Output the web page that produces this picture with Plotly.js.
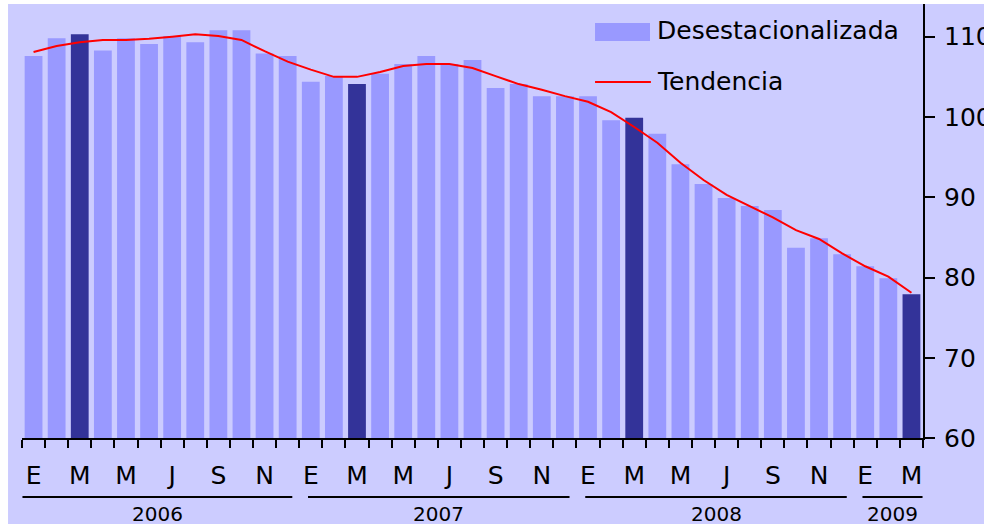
<!DOCTYPE html>
<html>
<head>
<meta charset="utf-8">
<script src="https://cdn.plot.ly/plotly-3.0.1.min.js"></script>
<style>
  html, body { margin: 0; padding: 0; background: #ffffff; }
  #chart { position: absolute; left: 0; top: 0; width: 984px; height: 529px; }
</style>
</head>
<body>
<div id="chart"></div>
<script>
// ---- data ----
const periods = [
  '2006-01','2006-02','2006-03','2006-04','2006-05','2006-06','2006-07','2006-08','2006-09','2006-10','2006-11','2006-12',
  '2007-01','2007-02','2007-03','2007-04','2007-05','2007-06','2007-07','2007-08','2007-09','2007-10','2007-11','2007-12',
  '2008-01','2008-02','2008-03','2008-04','2008-05','2008-06','2008-07','2008-08','2008-09','2008-10','2008-11','2008-12',
  '2009-01','2009-02','2009-03'
];
const monthLabels = [
  'E','','M','','M','','J','','S','','N','',
  'E','','M','','M','','J','','S','','N','',
  'E','','M','','M','','J','','S','','N','',
  'E','','M'
];
const desestacionalizada = [
  107.6,109.8,110.3,108.3,109.8,109.1,110.1,109.3,110.8,110.8,107.9,107.6,
  104.4,105.1,104.1,105.4,106.6,107.6,106.6,107.1,103.6,104.1,102.6,102.6,
  102.6,99.6,99.9,97.9,94.1,91.65,89.9,88.9,88.4,83.7,84.9,82.9,
  81.4,79.9,77.9
];
const tendencia = [
  108.1,108.85,109.3,109.6,109.6,109.75,110.0,110.3,110.1,109.6,108.2,106.9,
  105.9,105.0,105.0,105.6,106.35,106.6,106.6,106.1,105.1,104.1,103.4,102.6,
  101.9,100.6,98.75,96.8,94.3,92.15,90.3,88.9,87.5,85.9,84.8,83.0,
  81.4,80.1,78.1
];
const highlighted = ['2006-03','2007-03','2008-03','2009-03'];
const years = ['2006','2007','2008','2009'];
const seriesNames = ['Desestacionalizada','Tendencia'];
const yTicks = [60,70,80,90,100,110];

// ---- styles ----
const FONT = 'DejaVu Sans, Arial, sans-serif';
const LIGHT = '#9999FF', DARK = '#333399', BG = '#CCCCFF', RED = '#FF0000';

const barColors = periods.map(p => highlighted.includes(p) ? DARK : LIGHT);

const traces = [
  {
    type: 'bar', x: periods, y: desestacionalizada, name: seriesNames[0],
    marker: { color: barColors, line: { width: 0 } }, showlegend: false,
    hoverinfo: 'x+y'
  },
  {
    type: 'scatter', mode: 'lines', x: periods, y: tendencia, name: seriesNames[1],
    line: { color: RED, width: 2 }, showlegend: false, hoverinfo: 'x+y'
  }
];

// chart background panel (white strip top/left/bottom like the reference)
const shapes = [
  { type: 'rect', xref: 'paper', yref: 'paper', layer: 'below',
    x0: -0.0155, x1: 1.08, y0: -0.1982, y1: 1.0, fillcolor: BG, line: { width: 0 } }
];
const annotations = [];

// year groupings derived from the period list
years.forEach((yr, i) => {
  const idx = periods.map((p, k) => p.startsWith(yr) ? k : -1).filter(k => k >= 0);
  const s = idx[0], e = idx[idx.length - 1];
  const x0 = s - 0.5 + (i > 0 ? 0.38 : 0.02);
  const x1 = e + 0.5 - (i < years.length - 1 ? 0.3 : 0.02);
  shapes.push({ type: 'line', xref: 'x', yref: 'paper', x0: x0, x1: x1, y0: -0.136, y1: -0.136,
                line: { color: '#000000', width: 2 } });
  annotations.push({ xref: 'x', yref: 'paper', x: (x0 + x1) / 2, y: -0.174, text: yr,
                     showarrow: false, xanchor: 'center', yanchor: 'middle',
                     font: { family: FONT, size: 20, color: '#000000' } });
});

// manual legend
shapes.push({ type: 'rect', xref: 'paper', yref: 'paper', x0: 0.636, x1: 0.697, y0: 0.9147, y1: 0.9562,
              fillcolor: LIGHT, line: { width: 0 } });
shapes.push({ type: 'line', xref: 'paper', yref: 'paper', x0: 0.636, x1: 0.698, y0: 0.8203, y1: 0.8203,
              line: { color: RED, width: 2 } });
annotations.push({ xref: 'paper', yref: 'paper', x: 0.703, y: 0.940, text: seriesNames[0], showarrow: false,
                   xanchor: 'left', yanchor: 'middle', font: { family: FONT, size: 25, color: '#000000' } });
annotations.push({ xref: 'paper', yref: 'paper', x: 0.703, y: 0.821, text: seriesNames[1], showarrow: false,
                   xanchor: 'left', yanchor: 'middle', font: { family: FONT, size: 25, color: '#000000' } });

const layout = {
  width: 984, height: 529,
  margin: { l: 22, r: 61, t: 4, b: 91, pad: 0 },
  paper_bgcolor: '#ffffff', plot_bgcolor: 'rgba(0,0,0,0)',
  bargap: 0.23,
  showlegend: false,
  font: { family: FONT, color: '#000000' },
  xaxis: {
    type: 'category', range: [-0.5, periods.length - 0.5],
    tickmode: 'array', tickvals: periods, ticktext: monthLabels,
    tickson: 'boundaries', ticks: 'outside', ticklen: 8, tickwidth: 2, tickcolor: '#000000',
    ticklabelstandoff: 14,
    showline: true, linecolor: '#000000', linewidth: 2, showgrid: false, zeroline: false,
    tickfont: { family: FONT, size: 25, color: '#000000' }, tickangle: 0,
    fixedrange: true
  },
  yaxis: {
    side: 'right', range: [60, 114.08],
    tickmode: 'array', tickvals: yTicks,
    ticks: 'outside', ticklen: 10, tickwidth: 2, tickcolor: '#000000',
    ticklabelstandoff: 4,
    showline: true, linecolor: '#000000', linewidth: 2, showgrid: false, zeroline: false,
    tickfont: { family: FONT, size: 25, color: '#000000' },
    fixedrange: true
  },
  shapes: shapes,
  annotations: annotations
};

Plotly.newPlot('chart', traces, layout, { displayModeBar: false, staticPlot: true });
</script>
</body>
</html>
